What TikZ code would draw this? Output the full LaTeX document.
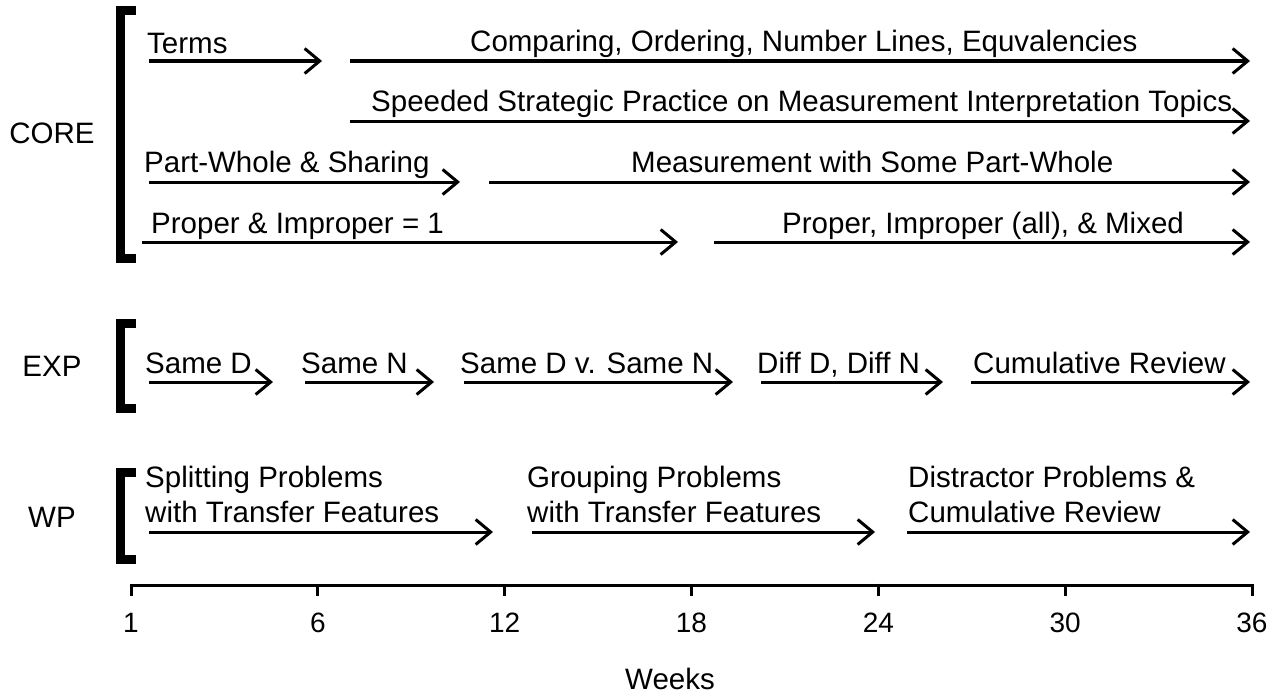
\documentclass[tikz,border=0pt]{standalone}
\usepackage{fontspec}
\setmainfont{Liberation Sans}
\usetikzlibrary{arrows.meta}
\tikzset{
  arr/.style={line width=3pt, -{Straight Barb[length=15pt,width=25pt,sharp]}},
  lbl/.style={inner sep=0pt, anchor=base west, font=\fontsize{29.5}{35}\selectfont},
  grp/.style={inner sep=0pt, anchor=center, font=\fontsize{29.5}{35}\selectfont},
  brk/.style={line width=9pt, line join=miter},
  axis/.style={line width=3pt},
  tick/.style={inner sep=0pt, anchor=base, font=\fontsize{28}{32}\selectfont}
}
\begin{document}
\begin{tikzpicture}[x=1pt,y=-1pt]
\useasboundingbox (0,0) rectangle (1273,693);
% group labels
\node[grp] (core) at (52,133) {CORE};
\node[grp] (exp) at (52,366) {EXP};
\node[grp] (wp) at (52,517) {WP};
% brackets
\draw[brk] (136,11) -- (120,11) -- (120,258.5) -- (136,258.5);
\draw[brk] (136,323.5) -- (120,323.5) -- (120,408.5) -- (136,408.5);
\draw[brk] (136,472.5) -- (120,472.5) -- (120,559) -- (136,559);
% CORE row 1
\node[lbl] (t1) at (147,53) {Terms};
\coordinate (a1s) at (149,61); \coordinate (a1e) at (322,61);
\draw[arr] (a1s) -- (a1e);
\node[lbl] (t2) at (470,52) {Comparing, Ordering, Number Lines, Equvalencies};
\coordinate (a2s) at (350,61); \coordinate (a2e) at (1250,61);
\draw[arr] (a2s) -- (a2e);
% row 2
\node[lbl] (t3) at (371,111) {Speeded Strategic Practice on Measurement Interpretation Topics};
\coordinate (a3s) at (350,121); \coordinate (a3e) at (1250,121);
\draw[arr] (a3s) -- (a3e);
% row 3
\node[lbl] (t4) at (144,172) {Part-Whole \& Sharing};
\coordinate (a4s) at (149,182); \coordinate (a4e) at (460,182);
\draw[arr] (a4s) -- (a4e);
\node[lbl] (t5) at (631,172) {Measurement with Some Part-Whole};
\coordinate (a5s) at (489,182); \coordinate (a5e) at (1250,182);
\draw[arr] (a5s) -- (a5e);
% row 4
\node[lbl] (t6) at (151,233) {Proper \& Improper = 1};
\coordinate (a6s) at (142,242); \coordinate (a6e) at (678,242);
\draw[arr] (a6s) -- (a6e);
\node[lbl] (t7) at (782,233) {Proper, Improper (all), \& Mixed};
\coordinate (a7s) at (714,242); \coordinate (a7e) at (1250,242);
\draw[arr] (a7s) -- (a7e);
% EXP row
\node[lbl] (e1) at (145,373) {Same D};
\coordinate (b1s) at (149,382); \coordinate (b1e) at (273,382);
\draw[arr] (b1s) -- (b1e);
\node[lbl] (e2) at (301,373) {Same N};
\coordinate (b2s) at (305,382); \coordinate (b2e) at (434,382);
\draw[arr] (b2s) -- (b2e);
\node[lbl] (e3) at (460,373) {Same D v. Same N};
\coordinate (b3s) at (464,382); \coordinate (b3e) at (733,382);
\draw[arr] (b3s) -- (b3e);
\node[lbl] (e4) at (757,373) {Diff D, Diff N};
\coordinate (b4s) at (761,382); \coordinate (b4e) at (943,382);
\draw[arr] (b4s) -- (b4e);
\node[lbl] (e5) at (973,373) {Cumulative Review};
\coordinate (b5s) at (971,382); \coordinate (b5e) at (1250,382);
\draw[arr] (b5s) -- (b5e);
% WP row
\node[lbl] (w1a) at (145,487) {Splitting Problems};
\node[lbl] (w1b) at (145,522) {with Transfer Features};
\coordinate (c1s) at (149,532); \coordinate (c1e) at (493,532);
\draw[arr] (c1s) -- (c1e);
\node[lbl] (w2a) at (527,487) {Grouping Problems};
\node[lbl] (w2b) at (527,522) {with Transfer Features};
\coordinate (c2s) at (532,532); \coordinate (c2e) at (875,532);
\draw[arr] (c2s) -- (c2e);
\node[lbl] (w3a) at (908,487) {Distractor Problems \&};
\node[lbl] (w3b) at (908,522) {Cumulative Review};
\coordinate (c3s) at (907,532); \coordinate (c3e) at (1250,532);
\draw[arr] (c3s) -- (c3e);
% axis
\coordinate (ax0) at (131,585); \coordinate (ax1) at (1252,585);
\draw[axis] (ax0) -- (ax1);
\foreach \lab [count=\i from 0] in {1,6,12,18,24,30,36} {
  \draw[axis] (131+186.83*\i,583.5) -- (131+186.83*\i,596);
  \node[tick] (tk\i) at (131+186.83*\i,632) {\lab};
}
\node[grp, anchor=base] (weeks) at (670,689) {Weeks};
\end{tikzpicture}
\end{document}
